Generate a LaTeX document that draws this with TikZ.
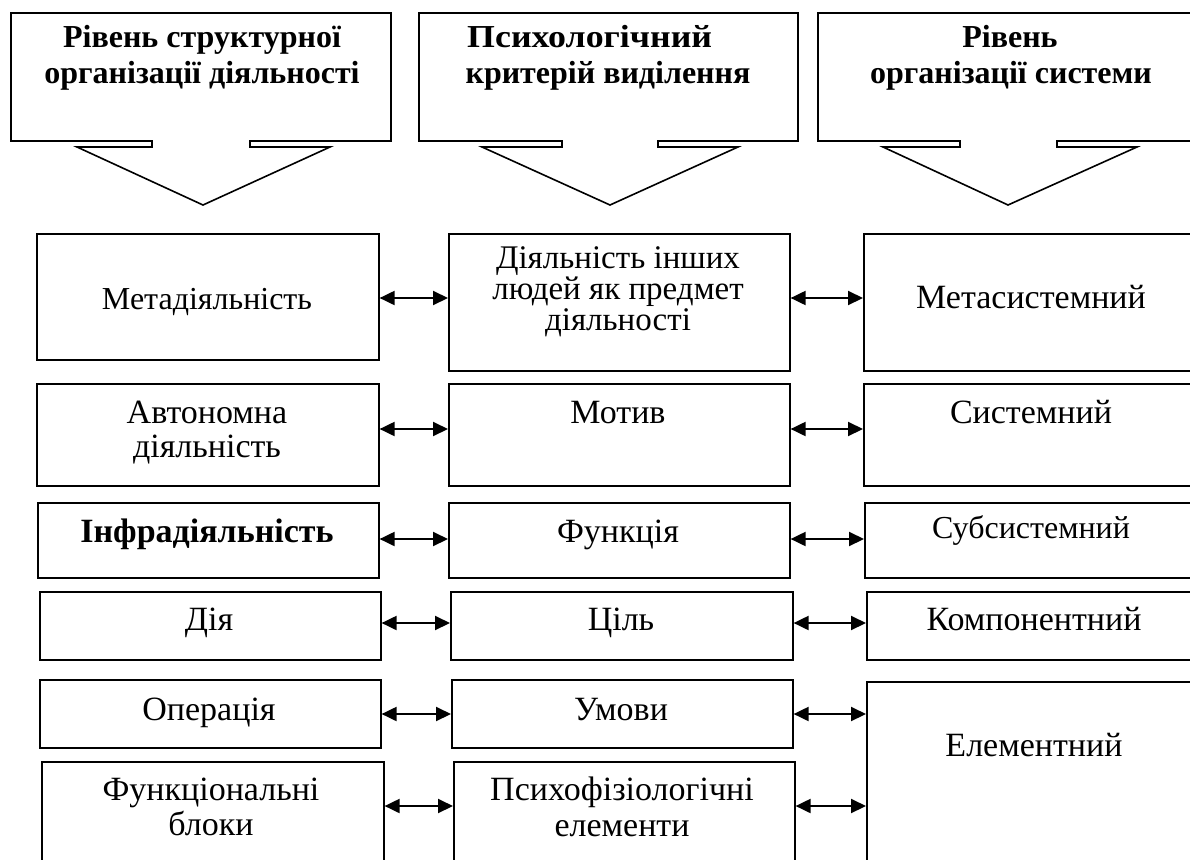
\documentclass[tikz,border=0pt]{standalone}
\usepackage{fontspec}
\setmainfont{Liberation Serif}
\usetikzlibrary{arrows.meta}
% rectangle node given by its corners: name, x1, y1, x2, y2
\newcommand\tbox[5]{\node[box,minimum width={(#4-#2)*1pt},minimum height={(#5-#3)*1pt}] (#1) at (#2,#3) {};}
% header box with a down-pointing block arrow under it:
% x1, x2, shaft left, shaft right, head left, head right, tip x
\newcommand\callout[7]{\draw[callout] (#1,13) -- (#2,13) -- (#2,141) -- (#4,141) -- (#4,147) -- (#6,147) -- (#7,205) -- (#5,147) -- (#3,147) -- (#3,141) -- (#1,141) -- cycle;}
\newcommand\sz[1]{\fontsize{#1}{#1}\selectfont}
\begin{document}
\begin{tikzpicture}[x=1pt,y=-1pt,
  box/.style={draw,line width=1.6pt,inner sep=0pt,anchor=north west},
  txt/.style={font=\sz{34},anchor=base,inner sep=0pt},
  head/.style={font=\bfseries\sz{32},anchor=base,inner sep=0pt},
  link/.style={line width=2pt,{Triangle[length=15pt,width=14pt]}-{Triangle[length=15pt,width=14pt]}},
  callout/.style={draw,line width=1.6pt,line join=miter}]
\useasboundingbox (0,0) rectangle (1190,859);
\clip (0,0) rectangle (1190,859);

% column headers
\callout{11}{391}{152}{250}{77}{330}{203}
\callout{419}{798}{562}{658}{482}{738}{610}
\callout{818}{1200}{960}{1057}{883}{1137}{1008}
\node[head] (H1a) at (202,48) {Рівень структурної};
\node[head] (H1b) at (202,83) {організації діяльності};
\node[head,anchor=base west,xscale=1.12,transform shape] (H2a) at (467,48) {Психологічний};
\node[head] (H2b) at (608,83) {критерій виділення};
\node[head] (H3a) at (1010,48) {Рівень};
\node[head] (H3b) at (1011,83) {організації системи};

% left column
\tbox{L1}{36}{233}{378}{359}
\tbox{L2}{36}{383}{378}{485}
\tbox{L3}{37}{502}{378}{577}
\tbox{L4}{39}{591}{380}{659}
\tbox{L5}{39}{679}{380}{747}
\tbox{L6}{41}{761}{383}{880}
% middle column
\tbox{M1}{448}{233}{789}{370}
\tbox{M2}{448}{383}{789}{485}
\tbox{M3}{448}{502}{789}{577}
\tbox{M4}{450}{591}{792}{659}
\tbox{M5}{451}{679}{792}{747}
\tbox{M6}{453}{761}{794}{880}
% right column
\tbox{R1}{863}{233}{1200}{370}
\tbox{R2}{863}{383}{1200}{485}
\tbox{R3}{864}{502}{1200}{577}
\tbox{R4}{866}{591}{1200}{659}
\tbox{R5}{866}{681}{1200}{880}

% texts
\node[txt,font=\sz{32}] (tL1) at (207,309) {Метадіяльність};
\node[txt] (tL2a) at (207,423) {Автономна};
\node[txt] (tL2b) at (207,457) {діяльність};
\node[head,font=\bfseries\sz{34}] (tL3) at (207,542) {Інфрадіяльність};
\node[txt] (tL4) at (209,630) {Дія};
\node[txt] (tL5) at (209,720) {Операція};
\node[txt] (tL6a) at (211,800) {Функціональні};
\node[txt] (tL6b) at (211,835) {блоки};

\node[txt,font=\sz{33}] (tM1a) at (618,268) {Діяльність інших};
\node[txt,font=\sz{33}] (tM1b) at (618,299) {людей як предмет};
\node[txt,font=\sz{33}] (tM1c) at (618,330) {діяльності};
\node[txt] (tM2) at (618,423) {Мотив};
\node[txt] (tM3) at (618,542) {Функція};
\node[txt] (tM4) at (621,630) {Ціль};
\node[txt] (tM5) at (621,720) {Умови};
\node[txt] (tM6a) at (622,800) {Психофізіологічні};
\node[txt] (tM6b) at (622,836) {елементи};

\node[txt] (tR1) at (1031,308) {Метасистемний};
\node[txt] (tR2) at (1031,423) {Системний};
\node[txt,font=\sz{32}] (tR3) at (1031,538) {Субсистемний};
\node[txt] (tR4) at (1034,630) {Компонентний};
\node[txt] (tR5) at (1034,756) {Елементний};

% heights of the two-way links
\coordinate (y1) at (0,298);
\coordinate (y2) at (0,429);
\coordinate (y3) at (0,539);
\coordinate (y4) at (0,623);
\coordinate (y5) at (0,714);
\coordinate (y6) at (0,806);
\foreach \i in {1,...,6}{
  \draw[link] (L\i.east |- y\i) -- (M\i.west |- y\i);
}
\foreach \i in {1,...,4}{
  \draw[link] (M\i.east |- y\i) -- (R\i.west |- y\i);
}
\draw[link] (M5.east |- y5) -- (R5.west |- y5);
\draw[link] (M6.east |- y6) -- (R5.west |- y6);
\end{tikzpicture}
\end{document}
